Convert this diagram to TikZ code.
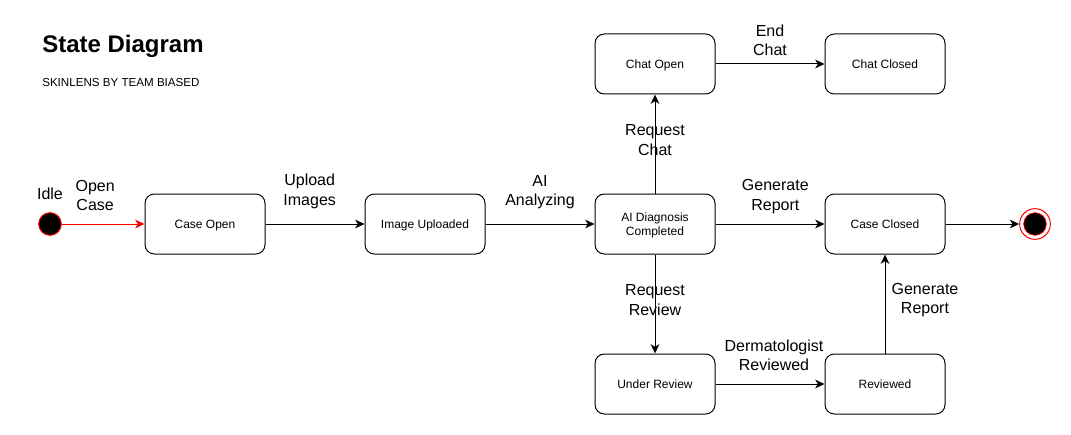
\documentclass[tikz,border=0pt]{standalone}
\usepackage{fontspec}
\setmainfont{Liberation Sans}
\usetikzlibrary{arrows.meta}

\begin{document}
\begin{tikzpicture}[x=0.75pt, y=-0.75pt,
  state/.style={draw, line width=0.75pt, rounded corners=7pt, minimum width=90pt,
    minimum height=45pt, align=center, text depth=0pt, font=\fontsize{9}{11}\selectfont},
  lbl/.style={align=center, inner sep=0pt, font=\fontsize{12}{14.4}\selectfont},
  trans/.style={line width=0.75pt, -{Stealth[length=7pt,width=6.5pt,inset=2pt]}}]
  \useasboundingbox (0,0) rectangle (1071,435);

  \node[anchor=west, inner sep=0pt, font=\fontsize{18}{21}\selectfont\bfseries] (title) at (42,46) {State Diagram};
  \node[anchor=west, inner sep=0pt, font=\fontsize{8.7}{10}\selectfont] (subtitle) at (42,83) {SKINLENS BY TEAM BIASED};

  \node[circle, draw=red, fill=black, line width=0.75pt, minimum size=17pt, inner sep=0pt] (start) at (50,224) {};
  \node[lbl] (idle) at (50,194) {Idle};

  \node[state] (caseopen) at (205,224) {Case Open};
  \node[state] (imgup) at (425,224) {Image Uploaded};
  \node[state] (aidiag) at (655,224) {AI Diagnosis\\Completed};
  \node[state] (caseclosed) at (885,224) {Case Closed};
  \node[state] (chatopen) at (655,64) {Chat Open};
  \node[state] (chatclosed) at (885,64) {Chat Closed};
  \node[state] (underrev) at (655,384) {Under Review};
  \node[state] (reviewed) at (885,384) {Reviewed};

  \node[circle, draw=red, fill=white, line width=0.75pt, minimum size=23pt, inner sep=0pt] (end) at (1035,224) {};
  \node[circle, draw=red, fill=black, line width=0.5pt, minimum size=17pt, inner sep=0pt] (endin) at (end) {};

  \draw[trans, draw=red] (start) -- (caseopen) node[lbl, midway, above=9.75pt, xshift=-6pt] {Open\\Case};
  \draw[trans] (caseopen) -- (imgup) node[lbl, midway, above=11.25pt, xshift=-4pt] {Upload\\Images};
  \draw[trans] (imgup) -- (aidiag) node[lbl, midway, above=11pt] {AI\\Analyzing};
  \draw[trans] (aidiag) -- (chatopen) node[lbl, midway, yshift=3pt] {Request\\Chat};
  \draw[trans] (chatopen) -- (chatclosed) node[lbl, midway, above=6pt] {End\\Chat};
  \draw[trans] (aidiag) -- (caseclosed) node[lbl, midway, above=7.5pt, xshift=4pt] {Generate\\Report};
  \draw[trans] (aidiag) -- (underrev) node[lbl, midway, yshift=3pt] {Request\\Review};
  \draw[trans] (underrev) -- (reviewed) node[lbl, midway, above=9.75pt, xshift=3pt] {Dermatologist\\Reviewed};
  \draw[trans] (reviewed) -- (caseclosed) node[lbl, midway, yshift=3pt, xshift=30pt] {Generate\\Report};
  \draw[trans] (caseclosed) -- (end);
\end{tikzpicture}
\end{document}
